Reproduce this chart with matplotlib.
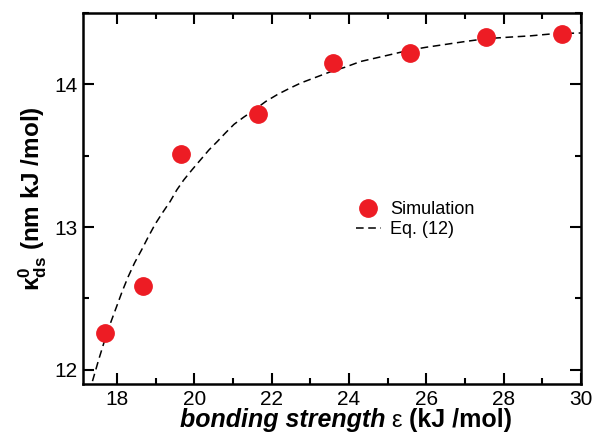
import numpy as np
import matplotlib.pyplot as plt
from matplotlib.ticker import MultipleLocator

plt.rcParams['font.family'] = ['Liberation Sans', 'DejaVu Sans']
plt.rcParams['mathtext.fontset'] = 'custom'
plt.rcParams['mathtext.rm'] = 'Liberation Sans'
plt.rcParams['mathtext.bf'] = 'Liberation Sans:bold'

# Simulation points
eps_sim = [17.7, 18.67, 19.66, 21.64, 23.6, 25.57, 27.54, 29.5]
kappa_sim = [12.26, 12.59, 13.51, 13.79, 14.15, 14.22, 14.33, 14.35]

# Eq. (12) curve
eps_eq = [17.37, 17.53, 17.69, 17.84, 17.99, 18.14, 18.29, 18.46, 18.64, 18.81,
          18.99, 19.18, 19.38, 19.55, 19.73, 19.94, 20.16, 20.38, 20.6, 20.81,
          21.03, 21.28, 21.55, 21.85, 22.16, 22.45, 22.76, 23.15, 23.54, 23.9,
          24.3, 24.7, 25.1, 25.57, 26.0, 26.5, 27.0, 27.54, 28.1, 28.7,
          29.3, 30.0]
kappa_eq = [11.92, 12.07, 12.21, 12.33, 12.44, 12.55, 12.65, 12.75, 12.84, 12.93,
            13.02, 13.10, 13.18, 13.26, 13.33, 13.40, 13.47, 13.54, 13.60, 13.66,
            13.72, 13.77, 13.82, 13.88, 13.93, 13.97, 14.01, 14.05, 14.09, 14.12,
            14.16, 14.185, 14.21, 14.24, 14.26, 14.28, 14.30, 14.32, 14.33, 14.34,
            14.355, 14.36]

fig = plt.figure(figsize=(5.92, 4.33), dpi=100)
ax = fig.add_axes([83 / 592, 1 - 384 / 433, 498 / 592, 371 / 433])

ax.plot(eps_sim, kappa_sim, 'o', color='#ed1c24', markersize=12.5, label='Simulation', zorder=3)
ax.plot(eps_eq, kappa_eq, '--', color='black', lw=1.1, dashes=(5, 3), label='Eq. (12)', zorder=2)

ax.set_xlim(17.125, 30)
ax.set_ylim(11.9, 14.5)
ax.xaxis.set_major_locator(MultipleLocator(2))
ax.xaxis.set_minor_locator(MultipleLocator(1))
ax.yaxis.set_major_locator(MultipleLocator(1))
ax.yaxis.set_minor_locator(MultipleLocator(0.5))
ax.tick_params(which='both', direction='in', top=True, right=True, width=1.5, labelsize=15)
ax.tick_params(which='major', length=8, pad=4)
ax.tick_params(which='minor', length=4)
for s in ax.spines.values():
    s.set_linewidth(1.8)

# x label: bold italic words, plain epsilon, bold units
yb = 6 / 433
fig.text(385 / 592, yb, 'bonding strength', fontsize=18, fontweight='bold', style='italic',
         ha='right', va='baseline')
fig.text(396 / 592, yb, 'ε', fontsize=17, ha='center', va='baseline')
fig.text(409 / 592, yb, '(kJ /mol)', fontsize=18, fontweight='bold', ha='left', va='baseline')

ax.set_ylabel(r'κ$^{\mathbf{0}}_{\mathbf{ds}}$ (nm kJ /mol)', fontsize=17.5, fontweight='bold',
              labelpad=4)

ax.legend(loc='center left', bbox_to_anchor=(0.515, 0.443), frameon=False, fontsize=13,
          handlelength=1.4, handletextpad=0.5, labelspacing=0.15, numpoints=1)

fig.savefig('out.png', dpi=100)
